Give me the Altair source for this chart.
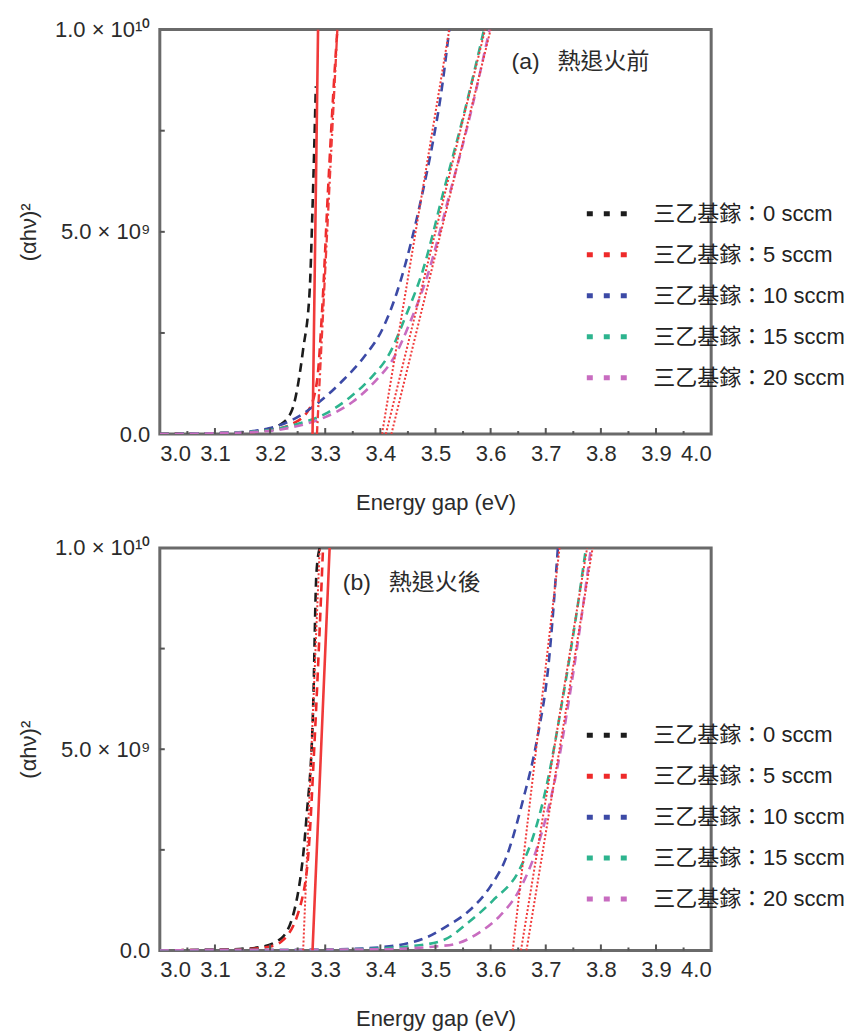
import altair as alt
import pandas as pd

FONT = "Liberation Sans, Arial, Noto Sans CJK TC, sans-serif"

SERIES = ["三乙基鎵：0 sccm", "三乙基鎵：5 sccm", "三乙基鎵：10 sccm",
          "三乙基鎵：15 sccm", "三乙基鎵：20 sccm"]
COLORS = ["#1c1c1c", "#ee2a2a", "#3c4aa6", "#2db48e", "#c86cc0"]

# ---------------- panel (a): before annealing (y in units of 1e9) ----------------
A0_X = [3.00, 3.05, 3.10, 3.15, 3.18, 3.22, 3.24, 3.26, 3.272, 3.277, 3.283]
A0_Y = [0.0, 0.01, 0.02, 0.04, 0.08, 0.25, 0.6, 2.1, 3.6, 5.6, 8.6]
A1_X = [3.00, 3.05, 3.10, 3.15, 3.20, 3.24, 3.27, 3.285, 3.295, 3.305, 3.315, 3.322]
A1_Y = [0.0, 0.01, 0.02, 0.04, 0.1, 0.25, 0.6, 1.3, 3.2, 6.0, 8.5, 10.0]
A2_X = [3.00, 3.10, 3.15, 3.20, 3.24, 3.285, 3.33, 3.37, 3.404, 3.43, 3.455, 3.477, 3.495, 3.51, 3.525]
A2_Y = [0.0, 0.02, 0.05, 0.15, 0.35, 0.75, 1.3, 1.9, 2.6, 3.5, 4.7, 6.0, 7.2, 8.4, 10.0]
A3_X = [3.00, 3.10, 3.20, 3.25, 3.30, 3.344, 3.38, 3.417, 3.447, 3.476, 3.516, 3.556, 3.588]
A3_Y = [0.0, 0.02, 0.1, 0.25, 0.5, 0.9, 1.35, 2.0, 2.95, 4.0, 6.07, 8.15, 10.0]
A4_X = [3.00, 3.10, 3.20, 3.25, 3.30, 3.35, 3.39, 3.425, 3.455, 3.485, 3.525, 3.565, 3.598]
A4_Y = [0.0, 0.02, 0.08, 0.2, 0.42, 0.8, 1.3, 1.9, 2.8, 3.9, 5.9, 8.0, 10.0]

A_FIT_STYLE = ["solid", "dashdot", "dotted", "dotted", "dotted"]
A_FIT_X0 = [3.277, 3.285, 3.403, 3.410, 3.420]
A_FIT_X1 = [3.287, 3.322, 3.525, 3.590, 3.600]
A_FIT_Y0 = [0.0, 0.0, 0.0, 0.0, 0.0]
A_FIT_Y1 = [10.0, 10.0, 10.0, 10.0, 10.0]

# ---------------- panel (b): after annealing ----------------
B0_X = [3.00, 3.05, 3.10, 3.15, 3.18, 3.22, 3.248, 3.266, 3.278, 3.284, 3.29]
B0_Y = [0.0, 0.01, 0.02, 0.04, 0.08, 0.3, 1.24, 3.3, 6.0, 9.35, 10.0]
B1_X = [3.00, 3.05, 3.10, 3.15, 3.20, 3.223, 3.26, 3.27, 3.28, 3.29, 3.296]
B1_Y = [0.0, 0.01, 0.02, 0.03, 0.1, 0.25, 1.4, 2.5, 5.0, 8.0, 10.0]
B2_X = [3.00, 3.10, 3.20, 3.30, 3.40, 3.45, 3.483, 3.52, 3.562, 3.60, 3.628, 3.658, 3.685, 3.705, 3.722]
B2_Y = [0.0, 0.01, 0.01, 0.02, 0.08, 0.18, 0.32, 0.6, 1.0, 1.6, 2.3, 3.7, 5.3, 7.1, 10.0]
B3_X = [3.00, 3.10, 3.20, 3.30, 3.35, 3.45, 3.513, 3.56, 3.604, 3.652, 3.68, 3.70, 3.73, 3.755, 3.773]
B3_Y = [0.0, 0.01, 0.01, 0.02, 0.03, 0.1, 0.25, 0.7, 1.24, 2.0, 2.95, 4.0, 6.2, 8.3, 10.0]
B4_X = [3.00, 3.10, 3.20, 3.30, 3.40, 3.50, 3.538, 3.58, 3.616, 3.652, 3.683, 3.719, 3.743, 3.765, 3.782]
B4_Y = [0.0, 0.01, 0.01, 0.02, 0.03, 0.1, 0.17, 0.45, 0.85, 1.5, 2.5, 4.4, 6.3, 8.3, 10.0]

B_FIT_STYLE = ["solid", "dotted", "dotted", "dotted", "dotted"]
B_FIT_X0 = [3.277, 3.260, 3.640, 3.655, 3.665]
B_FIT_X1 = [3.308, 3.290, 3.725, 3.775, 3.785]
B_FIT_Y0 = [0.0, 0.0, 0.0, 0.0, 0.0]
B_FIT_Y1 = [10.0, 10.0, 10.0, 10.0, 10.0]

# ---------------- axes ----------------
X_MAJOR = [3.1, 3.2, 3.3, 3.4, 3.5, 3.6, 3.7, 3.8, 3.9]
X_MINOR = [3.05, 3.15, 3.25, 3.35, 3.45, 3.55, 3.65, 3.75, 3.85, 3.95]
Y_MINOR = [2.5, 5.0, 7.5]
X_LABELS = [3.0, 3.1, 3.2, 3.3, 3.4, 3.5, 3.6, 3.7, 3.8, 3.9, 4.0]
Y_LABELS = [0.0, 5.0, 10.0]

PANEL_A_TEXT = "(a)\u2002 熱退火前"
PANEL_B_TEXT = "(b)\u2002 熱退火後"

W = 552
H_A = 405
H_B = 403
FS = 22


def curves_df(xs, ys):
    rows = []
    for name, x_list, y_list in zip(SERIES, xs, ys):
        for i, (x, y) in enumerate(zip(x_list, y_list)):
            rows.append({"series": name, "x": x, "y": y, "i": i})
    return pd.DataFrame(rows)


def fits_df(styles, x0, x1, y0, y1):
    rows = []
    for k, (s, a, b, c, d) in enumerate(zip(styles, x0, x1, y0, y1)):
        rows.append({"fit": k, "style": s, "x": a, "y": c, "i": 0})
        rows.append({"fit": k, "style": s, "x": b, "y": d, "i": 1})
    return pd.DataFrame(rows)


def panel(xs, ys, styles, fx0, fx1, fy0, fy1, text, text_x, text_y, height, legend_y):
    xscale = alt.Scale(domain=[3.0, 4.0], nice=False, zero=False)
    yscale = alt.Scale(domain=[0, 10], nice=False)
    xaxis = alt.Axis(values=X_LABELS, format=".1f", title="Energy gap (eV)",
                     ticks=False, domain=False, grid=False, labelPadding=9,
                     titlePadding=28)
    yaxis = alt.Axis(values=Y_LABELS, title="(αhν)²", ticks=False, domain=False,
                     grid=False, labelPadding=10, titlePadding=14,
                     labelExpr="datum.value == 0 ? '0.0' : (datum.value == 5 ? '5.0 × 10⁹' : '1.0 × 10¹⁰')")

    cdf = curves_df(xs, ys)
    curves = alt.Chart(cdf).mark_line(
        strokeDash=[9, 6], strokeWidth=2.6, interpolate="monotone", clip=True
    ).encode(
        x=alt.X("x:Q", scale=xscale, axis=xaxis),
        y=alt.Y("y:Q", scale=yscale, axis=yaxis),
        color=alt.Color("series:N", scale=alt.Scale(domain=SERIES, range=COLORS),
                        sort=SERIES,
                        legend=alt.Legend(title=None, orient="none",
                                          legendX=425, legendY=legend_y,
                                          symbolType="stroke", symbolSize=1600,
                                          symbolStrokeWidth=5, symbolDash=[6, 11],
                                          labelFontSize=FS, labelFont=FONT,
                                          labelColor="#222222", labelOffset=24,
                                          labelLimit=400,
                                          rowPadding=7, padding=0)),
        order="i:Q",
    )

    fdf = fits_df(styles, fx0, fx1, fy0, fy1)
    fits = alt.Chart(fdf).mark_line(color="#f03a3a", clip=True).encode(
        x="x:Q", y="y:Q", detail="fit:N", order="i:Q",
        strokeDash=alt.StrokeDash("style:N", legend=None,
                                  scale=alt.Scale(domain=["solid", "dashdot", "dotted"],
                                                  range=[[1, 0], [8, 3, 2, 3], [2, 2]])),
        strokeWidth=alt.StrokeWidth("style:N", legend=None,
                                    scale=alt.Scale(domain=["solid", "dashdot", "dotted"],
                                                    range=[2.6, 2.0, 1.6])),
    )

    tick_len_major = 0.15
    tick_len_minor = 0.075
    major = alt.Chart(pd.DataFrame({"x": X_MAJOR})).mark_rule(
        color="#555555", strokeWidth=2).encode(
        x="x:Q", y=alt.Y(datum=0), y2=alt.Y2(datum=tick_len_major))
    minor = alt.Chart(pd.DataFrame({"x": X_MINOR})).mark_rule(
        color="#555555", strokeWidth=2).encode(
        x="x:Q", y=alt.Y(datum=0), y2=alt.Y2(datum=tick_len_minor))
    yt = alt.Chart(pd.DataFrame({"y": Y_MINOR})).mark_rule(
        color="#555555", strokeWidth=2).encode(
        y="y:Q", x=alt.X(datum=3.0), x2=alt.X2(datum=3.009))

    ann = alt.Chart(pd.DataFrame({"t": [text]})).mark_text(
        align="left", baseline="middle", fontSize=23, font=FONT, color="#2b2b2b"
    ).encode(x=alt.X(datum=text_x), y=alt.Y(datum=text_y), text="t:N")

    return alt.layer(curves, fits, major, minor, yt, ann).properties(width=W, height=height)


top = panel([A0_X, A1_X, A2_X, A3_X, A4_X], [A0_Y, A1_Y, A2_Y, A3_Y, A4_Y],
            A_FIT_STYLE, A_FIT_X0, A_FIT_X1, A_FIT_Y0, A_FIT_Y1,
            PANEL_A_TEXT, 3.638, 9.2, H_A, 162)
bottom = panel([B0_X, B1_X, B2_X, B3_X, B4_X], [B0_Y, B1_Y, B2_Y, B3_Y, B4_Y],
               B_FIT_STYLE, B_FIT_X0, B_FIT_X1, B_FIT_Y0, B_FIT_Y1,
               PANEL_B_TEXT, 3.332, 9.13, H_B, 165)

chart = alt.vconcat(top, bottom, spacing=20).resolve_legend(color="independent").properties(
    padding={"left": 16, "top": 16, "right": 0, "bottom": 0},
    background="white",
).configure_view(
    stroke="#6a6a6a", strokeWidth=3
).configure_axis(
    labelFont=FONT, titleFont=FONT, labelFontSize=FS, titleFontSize=FS,
    titleFontWeight="normal", labelColor="#2b2b2b", titleColor="#2b2b2b"
)

chart.save("out.html", embed_options={"renderer": "svg", "actions": False})
